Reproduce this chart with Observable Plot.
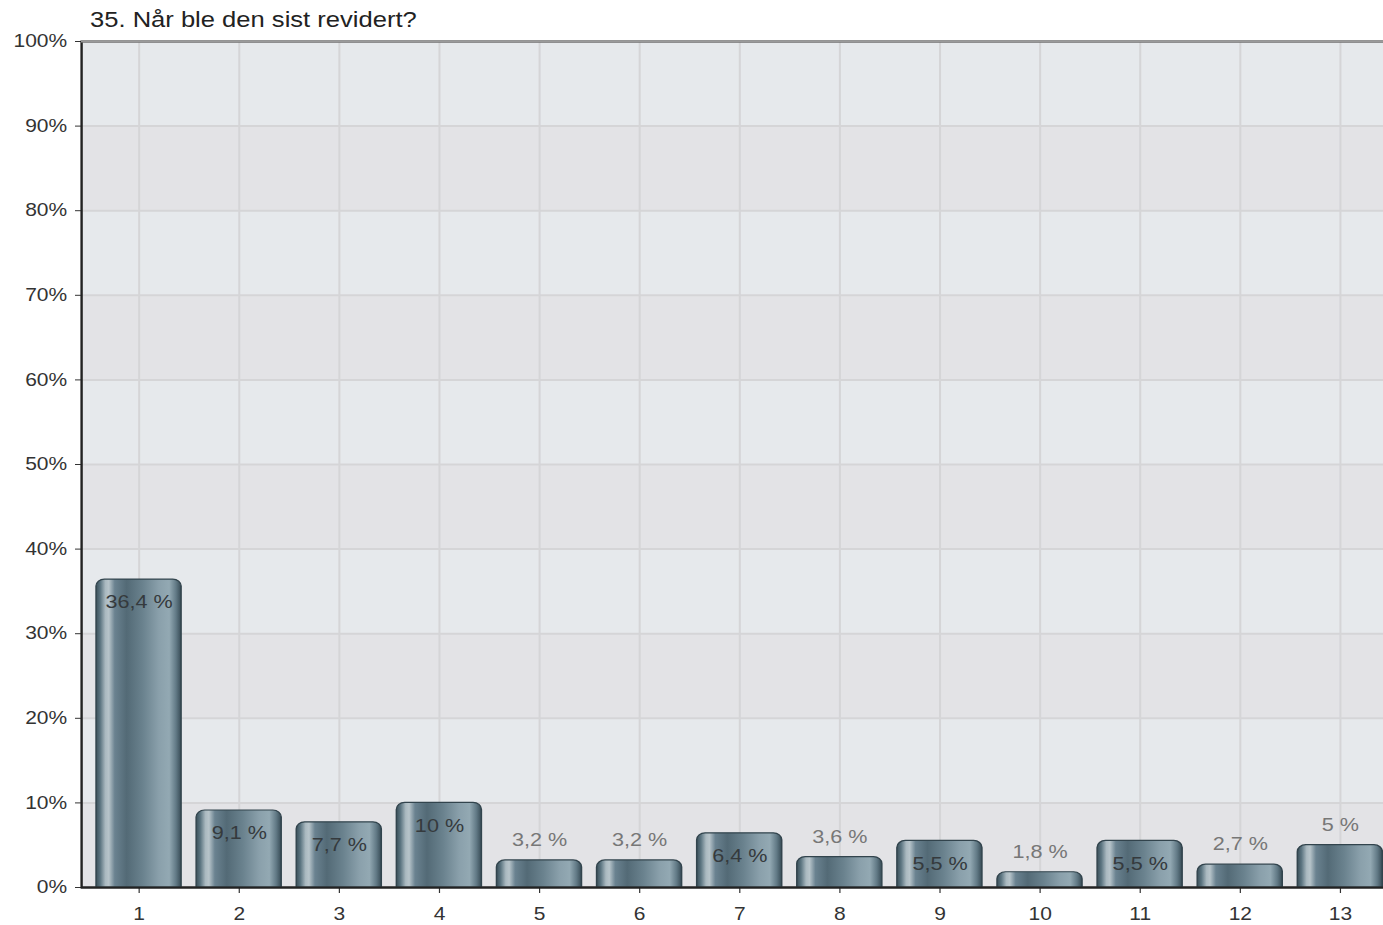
<!DOCTYPE html>
<html>
<head>
<meta charset="utf-8">
<script src="https://cdn.jsdelivr.net/npm/d3@7"></script>
<script src="https://cdn.jsdelivr.net/npm/@observablehq/plot@0.6"></script>
<style>
  html, body { margin: 0; padding: 0; background: #fff; overflow: hidden; }
  #title {
    height: 30px; line-height: 41px; padding-left: 75px;
    font-family: "Liberation Sans", Arial, sans-serif; font-size: 21.3px; color: #222;
    transform: scaleX(1.2); transform-origin: 0 0; white-space: nowrap;
  }
</style>
</head>
<body>
<div id="title">35. Når ble den sist revidert?</div>
<div id="chart"></div>
<script>
const categories = ["1", "2", "3", "4", "5", "6", "7", "8", "9", "10", "11", "12", "13"];
const values = [36.4, 9.1, 7.7, 10, 3.2, 3.2, 6.4, 3.6, 5.5, 1.8, 5.5, 2.7, 5];
const valueLabels = ["36,4 %", "9,1 %", "7,7 %", "10 %", "3,2 %", "3,2 %", "6,4 %", "3,6 %", "5,5 %", "1,8 %", "5,5 %", "2,7 %", "5 %"];
const yTicks = [0, 10, 20, 30, 40, 50, 60, 70, 80, 90, 100];

const data = categories.map((c, i) => ({cat: c, value: values[i], label: valueLabels[i]}));
const inside = data.filter(d => d.value > 5);
const above = data.filter(d => d.value <= 5);
const bandStarts = yTicks.slice(0, -1);

const gradStops = [
  [0, "#3a4f59"], [0.05, "#5c7581"], [0.11, "#aab9c0"], [0.15, "#b7c4ca"],
  [0.22, "#6a8290"], [0.36, "#536a76"], [0.55, "#6a828e"], [0.74, "#8aa0ab"],
  [0.86, "#93a9b3"], [0.94, "#627a86"], [1, "#384c56"]
];

const defs = () => {
  const d = d3.create("svg:defs");
  const lg = d.append("linearGradient").attr("id", "barGrad")
    .attr("x1", 0).attr("x2", 1).attr("y1", 0).attr("y2", 0);
  gradStops.forEach(([o, c]) => lg.append("stop").attr("offset", o).attr("stop-color", c));
  return d.node();
};

const chart = Plot.plot({
  width: 1167,
  height: 895,
  marginLeft: 67.5,
  marginRight: 2.5,
  marginTop: 11,
  marginBottom: 38,
  style: {
    fontFamily: "'Liberation Sans', Arial, sans-serif",
    fontSize: "17.5px",
    color: "#333",
    background: "transparent",
    overflow: "visible",
    transform: "scaleX(1.2)",
    transformOrigin: "0 0"
  },
  x: {domain: categories, padding: 0.15, round: false, label: null, tickSize: 6, tickPadding: 14},
  y: {domain: [0, 100], ticks: yTicks, tickFormat: d => d + "%", label: null, tickSize: 5, tickPadding: 7},
  marks: [
    defs,
    Plot.rect(bandStarts, {y1: d => d, y2: d => d + 10, fill: d => (d / 10) % 2 === 0 ? "#e3e3e6" : "#e6e9ec"}),
    Plot.ruleY(yTicks.slice(1, -1), {stroke: "#d5d5d7", strokeWidth: 2}),
    Plot.ruleX(categories, {x: d => d, stroke: "#d5d5d7", strokeWidth: 1.7}),
    Plot.frame({stroke: "#222", strokeWidth: 2}),
    Plot.ruleY([100], {stroke: "#9a9a9a", strokeWidth: 2}),
    Plot.barY(data, {x: "cat", y: "value", fill: "url(#barGrad)", stroke: "#32444d", strokeWidth: 1.2, ry1: 7}),
    Plot.ruleY([0], {stroke: "#222", strokeWidth: 2}),
    Plot.text(inside, {x: "cat", y: "value", text: "label", dy: 23, fill: "#353a3d", fontSize: 18}),
    Plot.text(above, {x: "cat", y: "value", text: "label", dy: -20, fill: "#777", fontSize: 18})
  ]
});
document.getElementById("chart").appendChild(chart);
</script>
</body>
</html>
